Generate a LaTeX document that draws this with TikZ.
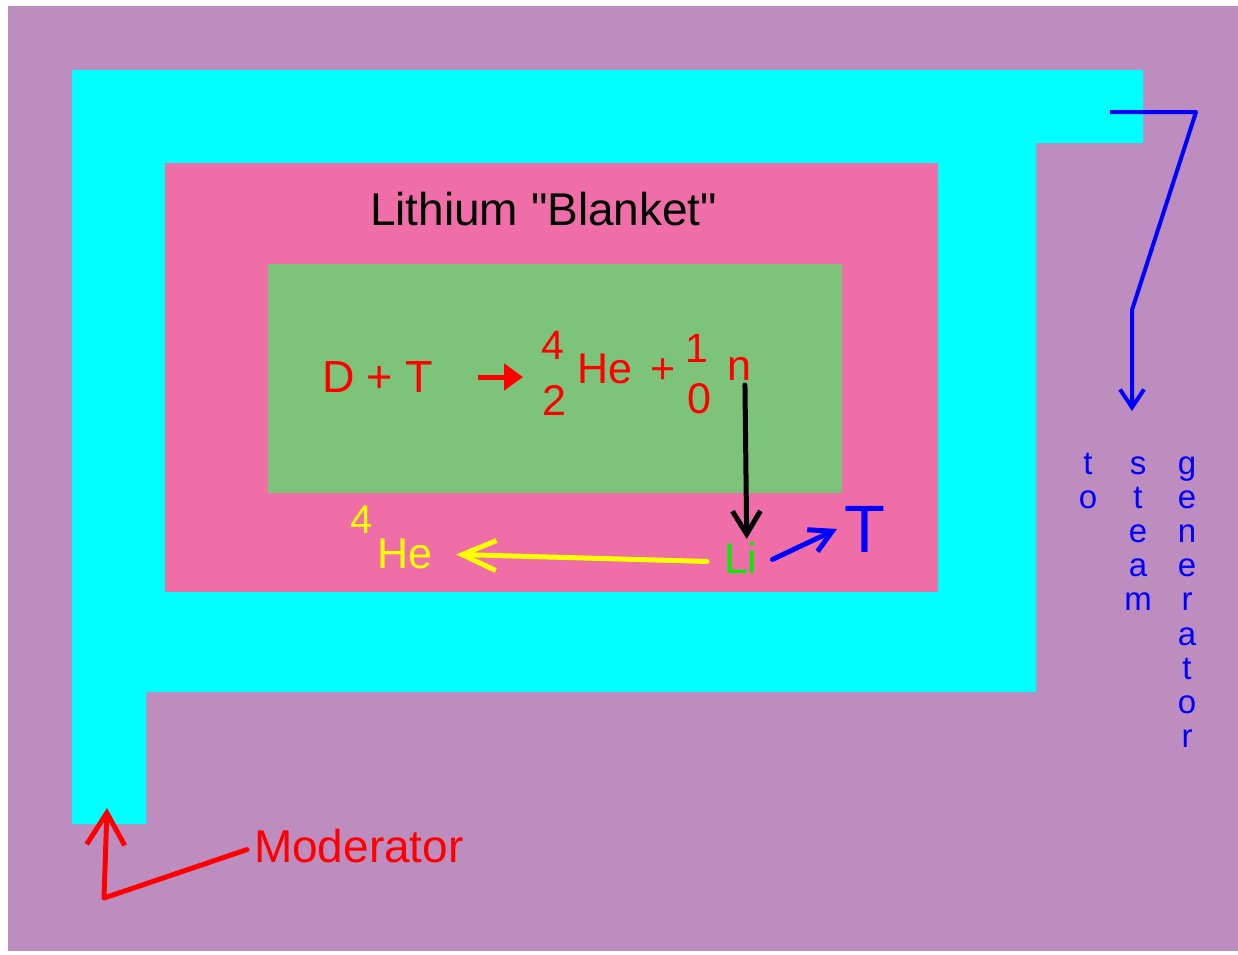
\documentclass[tikz,border=0pt]{standalone}
\usepackage{fontspec}
\setmainfont{Liberation Sans}[Ligatures=TeXOff]
\usetikzlibrary{arrows.meta}
\definecolor{bgpurple}{HTML}{BD8DBF}
\definecolor{coolcyan}{HTML}{00FFFF}
\definecolor{blanketpink}{HTML}{EF6EA8}
\definecolor{coregreen}{HTML}{7DC47A}
\definecolor{lired}{HTML}{FF0000}
\definecolor{liblue}{HTML}{0000FF}
\definecolor{liyellow}{HTML}{FFFF00}
\definecolor{ligreen}{HTML}{00F000}
\begin{document}
\begin{tikzpicture}[x=1pt,y=-1pt,
  txt/.style={inner sep=0pt, outer sep=0pt, anchor=base west},
  fs/.style={font=\fontsize{#1}{#1}\selectfont},
  vert/.style={inner sep=0pt, outer sep=0pt, anchor=base, text=liblue, font=\fontsize{33}{34}\selectfont},
  conn/.style={line width=5pt, line cap=round, line join=round},
]
\useasboundingbox (0,0) rectangle (1238,954);
\fill[white] (0,0) rectangle (1238,954);
\fill[bgpurple] (8,6) rectangle (1238,951);
% moderator (cyan)
\fill[coolcyan] (72,70) -- (1143,70) -- (1143,143) -- (1036,143) -- (1036,692)
  -- (146,692) -- (146,824) -- (72,824) -- cycle;
% lithium blanket
\fill[blanketpink] (165,163) rectangle (938,592);
% plasma core
\fill[coregreen] (268,264) rectangle (842,493);

% title
\node[txt, fs=46, text=black] (title) at (370,225) {Lithium "Blanket"};

% reaction
\node[txt, fs=45, text=lired] (dt) at (322,392) {D + T};
\coordinate (ra) at (478,377);
\coordinate (rb) at (523,377);
\draw[lired, line width=5pt, -{Triangle[length=19pt,width=26pt]}] (ra) -- (rb);
\node[txt, fs=41, text=lired] (sup4) at (541,359) {4};
\node[txt, fs=43, text=lired] (sub2) at (542,415) {2};
\node[txt, fs=43, text=lired] (he) at (577,383) {He};
\node[txt, fs=43, text=lired] (plus) at (650,383) {+};
\node[txt, fs=41, text=lired] (sup1) at (685,362) {1};
\node[txt, fs=43, text=lired] (sub0) at (687,413) {0};
\node[txt, fs=43, text=lired] (nn) at (727,380) {n};

% blanket products
\node[txt, fs=40, text=liyellow] (sup4y) at (350,533) {4};
\node[txt, fs=43, text=liyellow] (hey) at (377,568) {He};
\node[txt, fs=43, text=ligreen] (li) at (724,573) {Li};
\node[txt, fs=67, text=liblue] (tt) at (844,552) {T};

\draw[conn, black, -{Straight Barb[length=23pt,width=28pt]}]
  ([xshift=6pt,yshift=-5pt]nn.south) -- ([xshift=6pt,yshift=3pt]li.north);
\draw[conn, liyellow, -{Straight Barb[length=34pt,width=30pt]}]
  ([xshift=-17pt,yshift=-4pt]li.west) -- ([xshift=24pt,yshift=-1pt]hey.east);
\draw[conn, liblue, -{Straight Barb[length=22pt,width=24pt]}]
  ([xshift=15pt,yshift=-2pt]li.east) -- ([xshift=-7pt]tt.west);

% to steam generator
\foreach \c [count=\i] in {t,o}
  \node[vert] (to\i) at (1088,{474+34.2*(\i-1)}) {\c};
\foreach \c [count=\i] in {s,t,e,a,m}
  \node[vert] (st\i) at (1138,{474+34.2*(\i-1)}) {\c};
\foreach \c [count=\i] in {g,e,n,e,r,a,t,o,r}
  \node[vert] (gen\i) at (1187,{474+34.2*(\i-1)}) {\c};

\coordinate (s0) at (1110,112);
\coordinate (s1) at (1196,112);
\coordinate (s2) at (1132,310);
\coordinate (s3) at (1132,411);
\draw[liblue, line width=4pt, line join=round, -{Straight Barb[length=18pt,width=24pt]}]
  (s0) -- (s1) -- (s2) -- (s3);

% moderator label
\node[txt, fs=46, text=lired] (mod) at (254,862) {Moderator};
\coordinate (m1) at (104,898);
\coordinate (m2) at (107,808);
\draw[conn, lired, -{Straight Barb[length=32pt,width=38pt]}]
  ([xshift=-7pt,yshift=-4pt]mod.west) -- (m1) -- (m2);
\end{tikzpicture}
\end{document}
